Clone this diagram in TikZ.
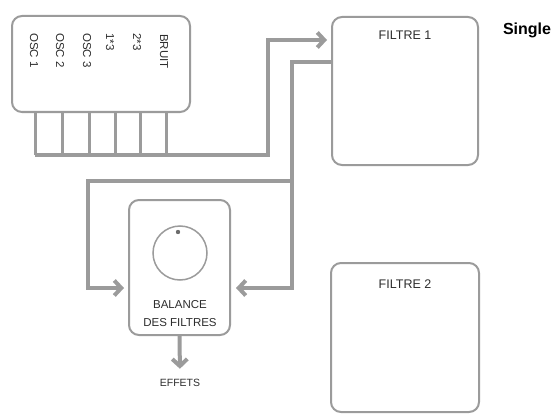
\documentclass[tikz,border=0pt]{standalone}
\usepackage{fontspec}
\setmainfont{Liberation Sans}
\usetikzlibrary{arrows.meta}

\begin{document}
\begin{tikzpicture}[x=1pt,y=-1pt]
% couleurs
\definecolor{gris}{RGB}{155,155,155}
\definecolor{encre}{RGB}{45,45,45}
% styles de trait et de texte
\tikzstyle{boite}=[draw=gris, line width=2pt, rounded corners=10pt, inner sep=0pt]
\tikzstyle{liaison}=[draw=gris, line width=4pt]
\tikzstyle{fleche}=[-{Straight Barb[length=7pt,width=15pt]}]
\tikzstyle{doigt}=[draw=gris, line width=3pt]
\tikzstyle{titre}=[text=encre, font=\fontsize{12.5}{18}\selectfont]
\tikzstyle{source}=[titre, font=\fontsize{11.5}{14}\selectfont, rotate=-90, anchor=west, inner sep=0pt]
\useasboundingbox (0,0) rectangle (556,417);
% dibujar boites
\node[boite, minimum width=178pt, minimum height=96pt] (sources) at (101,64) {};
\node[boite, minimum width=146pt, minimum height=148pt] (filtre1) at (405,91) {};
\node[boite, minimum width=148pt, minimum height=149pt] (filtre2) at (405,337.5) {};
\node[boite, minimum width=101pt, minimum height=135pt] (balance) at (179.5,267.5) {};
% textes des boites
\node[source] (osc1) at (34,33) {OSC 1};
\node[source] (osc2) at (60,33) {OSC 2};
\node[source] (osc3) at (87,33) {OSC 3};
\node[source] (un3) at (110,33) {1*3};
\node[source] (deux3) at (137,33) {2*3};
\node[source] (bruit) at (164,34) {BRUIT};
\node[titre] (t1) at ([yshift=-19pt]filtre1.north) {FILTRE 1};
\node[titre] (t2) at ([yshift=-22pt]filtre2.north) {FILTRE 2};
\node[titre, font=\fontsize{11.5}{18}\selectfont, align=center] (tb) at (180,314) {BALANCE\\DES FILTRES};
\node[titre, font=\fontsize{10.5}{12}\selectfont] (effets) at (180,383) {EFFETS};
\node[font=\fontsize{16}{18}\selectfont\bfseries] (single) at (527,30) {Single};
% bouton de balance
\draw[gris, line width=1.5pt] (180,253) circle (27);
\fill[gris!70!black] (178,232) circle (2.2);
% points de passage
\coordinate (d1) at (35,155);
\coordinate (d2) at (62,155);
\coordinate (d3) at (89,155);
\coordinate (d4) at (115,155);
\coordinate (d5) at (140,155);
\coordinate (d6) at (166,155);
\coordinate (c1) at (268,155);
\coordinate (c2) at (292,181);
\coordinate (c3) at (88,181);
\coordinate (a1) at (0,40);
\coordinate (a2) at (0,62);
\coordinate (a3) at (0,288);
% dibujar doigts
\draw[doigt] (d1 |- sources.south) -- (d1);
\draw[doigt] (d2 |- sources.south) -- (d2);
\draw[doigt] (d3 |- sources.south) -- (d3);
\draw[doigt] (d4 |- sources.south) -- (d4);
\draw[doigt] (d5 |- sources.south) -- (d5);
\draw[doigt] (d6 |- sources.south) -- (d6);
% dibujar liaisons
\draw[liaison, fleche, shorten >=4pt] (d1) -- (c1) |- (filtre1.west |- a1);
\draw[liaison] (filtre1.west |- a2) -| (c2);
\draw[liaison, fleche, shorten >=5pt] (c2) |- (balance.east |- a3);
\draw[liaison, fleche, shorten >=4pt] (c2) -- (c3) |- (balance.west |- a3);
\draw[liaison, fleche, shorten >=7pt] (balance.south) -- (effets.north);
\end{tikzpicture}
\end{document}
